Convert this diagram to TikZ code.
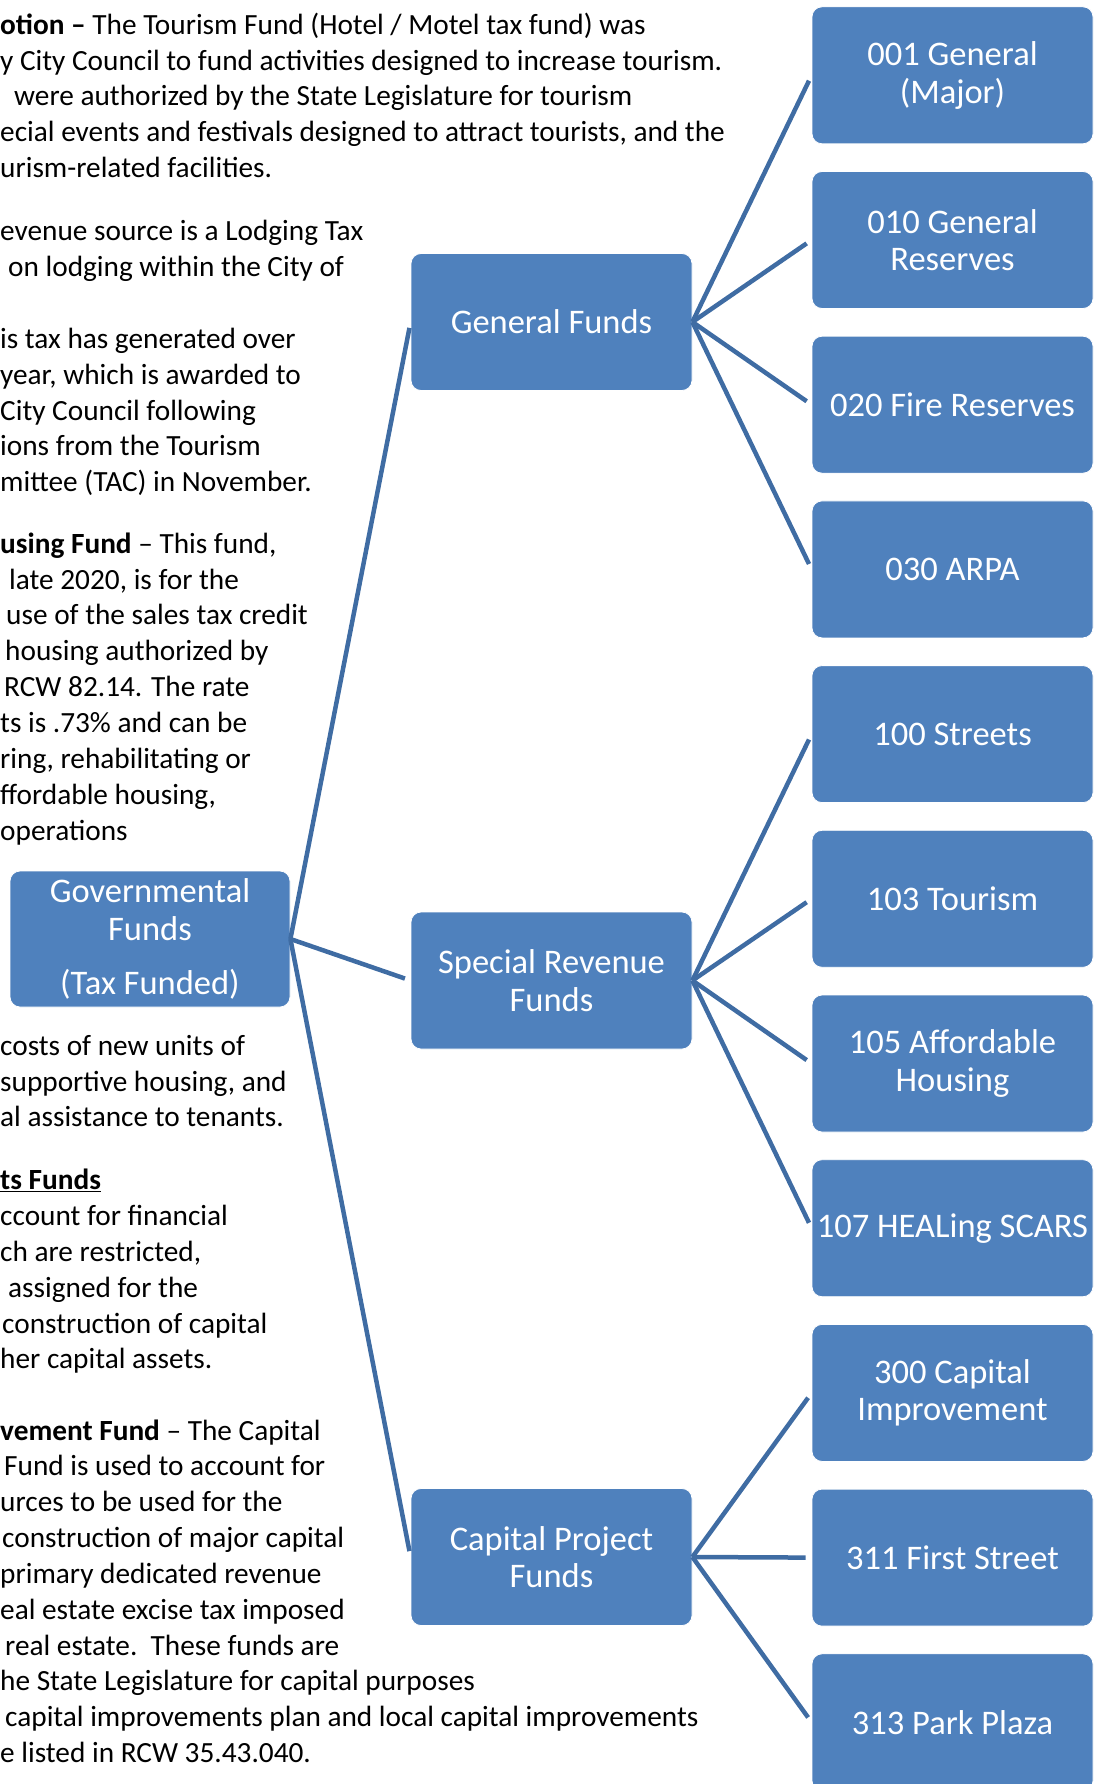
\documentclass[tikz,border=0pt]{standalone}
\usepackage{fontspec}
\setmainfont{Carlito}
\usetikzlibrary{positioning}
\definecolor{boxblue}{HTML}{4F81BD}
\definecolor{lineblue}{HTML}{3F6CA3}

\begin{document}
\begin{tikzpicture}[x=1pt,y=-1pt,
    fund/.style={fill=boxblue,draw=white,line width=0.8pt,rounded corners=10pt,
      minimum width=281pt,minimum height=137pt,inner sep=0pt,text=white,
      align=center,font=\fontsize{34.5}{37.6}\selectfont},
    link/.style={draw=lineblue,line width=4.5pt,shorten >=6pt},
    body/.style={anchor=base west,inner sep=0pt,font=\fontsize{29.3}{35.85}\selectfont}]
  \useasboundingbox (0,0) rectangle (1095,1784);

  % text behind the chart, cut at the left edge
  \foreach \dx/\txt [count=\i] in {
      0/{\textbf{otion –} The Tourism Fund (Hotel / Motel tax fund) was},
      0/{y City Council to fund activities designed to increase tourism.},
      14/{were authorized by the State Legislature for tourism},
      0/{ecial events and festivals designed to attract tourists, and the},
      0/{urism-related facilities.}}
    \node[body] at (\dx,34.2+35.85*\i-35.85) (pa\i) {\txt};
  \node[body] at (0,240.2) (pb1) {evenue source is a Lodging Tax};
  \node[body] at (8,276.6) (pb2) {on lodging within the City of};
  \foreach \dx/\txt [count=\i] in {
      0/{is tax has generated over},
      0/{year, which is awarded to},
      0/{City Council following},
      0/{ions from the Tourism},
      0/{mittee (TAC) in November.}}
    \node[body] at (\dx,348.4+35.85*\i-35.85) (pc\i) {\txt};
  \foreach \dx/\txt [count=\i] in {
      0/{\textbf{using Fund} – This fund,},
      9/{late 2020, is for the},
      6/{use of the sales tax credit},
      5/{housing authorized by},
      4/{RCW 82.14. The rate},
      0/{ts is .73\% and can be},
      0/{ring, rehabilitating or},
      0/{ffordable housing,},
      0/{operations}}
    \node[body] at (\dx,553.2+35.85*\i-35.85) (pd\i) {\txt};
  \foreach \dx/\txt [count=\i] in {
      0/{costs of new units of},
      0/{supportive housing, and},
      0/{al assistance to tenants.}}
    \node[body] at (\dx,1055.2+35.85*\i-35.85) (pe\i) {\txt};
  \foreach \dx/\txt [count=\i] in {
      0/{\underline{\textbf{ts Funds}}},
      0/{ccount for financial},
      0/{ch are restricted,},
      8/{assigned for the},
      2/{construction of capital},
      0/{her capital assets.}}
    \node[body] at (\dx,1189.6+35.85*\i-35.85) (pf\i) {\txt};
  \foreach \dx/\txt [count=\i] in {
      0/{\textbf{vement Fund} – The Capital},
      4/{Fund is used to account for},
      0/{urces to be used for the},
      2/{construction of major capital},
      0/{primary dedicated revenue},
      0/{eal estate excise tax imposed},
      5/{real estate.\ \ These funds are},
      0/{he State Legislature for capital purposes},
      5/{capital improvements plan and local capital improvements},
      0/{e listed in RCW 35.43.040.}}
    \node[body] at (\dx,1440.0+35.85*\i-35.85) (pg\i) {\txt};

  % the funds
  \node[fund,minimum width=280pt,minimum height=136pt] at (150,939) (gov)
    {Governmental\\Funds\\[16.7pt](Tax Funded)};
  \node[fund] at (551.5,322) (gf) {General Funds};
  \node[fund] at (551.5,980.5) (sr) {Special Revenue\\Funds};
  \node[fund] at (551.5,1557) (cp) {Capital Project\\Funds};

  \foreach \n/\t [count=\i from 0] in {
      f001/{001 General\\(Major)}, f010/{010 General\\Reserves},
      f020/{020 Fire Reserves}, f030/{030 ARPA},
      f100/{100 Streets}, f103/{103 Tourism},
      f105/{105 Affordable\\Housing}, f107/{107 HEALing SCARS},
      f300/{300 Capital\\Improvement}, f311/{311 First Street},
      f313/{313 Park Plaza}}
    \node[fund] at (952.5,75.3+164.7*\i) (\n) {\t};

  % links
  \foreach \n in {gf,sr,cp}
    \draw[link] (gov.east) -- (\n.west);
  \foreach \n in {f001,f010,f020,f030}
    \draw[link] (gf.east) -- (\n.west);
  \foreach \n in {f100,f103,f105,f107}
    \draw[link] (sr.east) -- (\n.west);
  \foreach \n in {f300,f311,f313}
    \draw[link] (cp.east) -- (\n.west);
\end{tikzpicture}
\end{document}
